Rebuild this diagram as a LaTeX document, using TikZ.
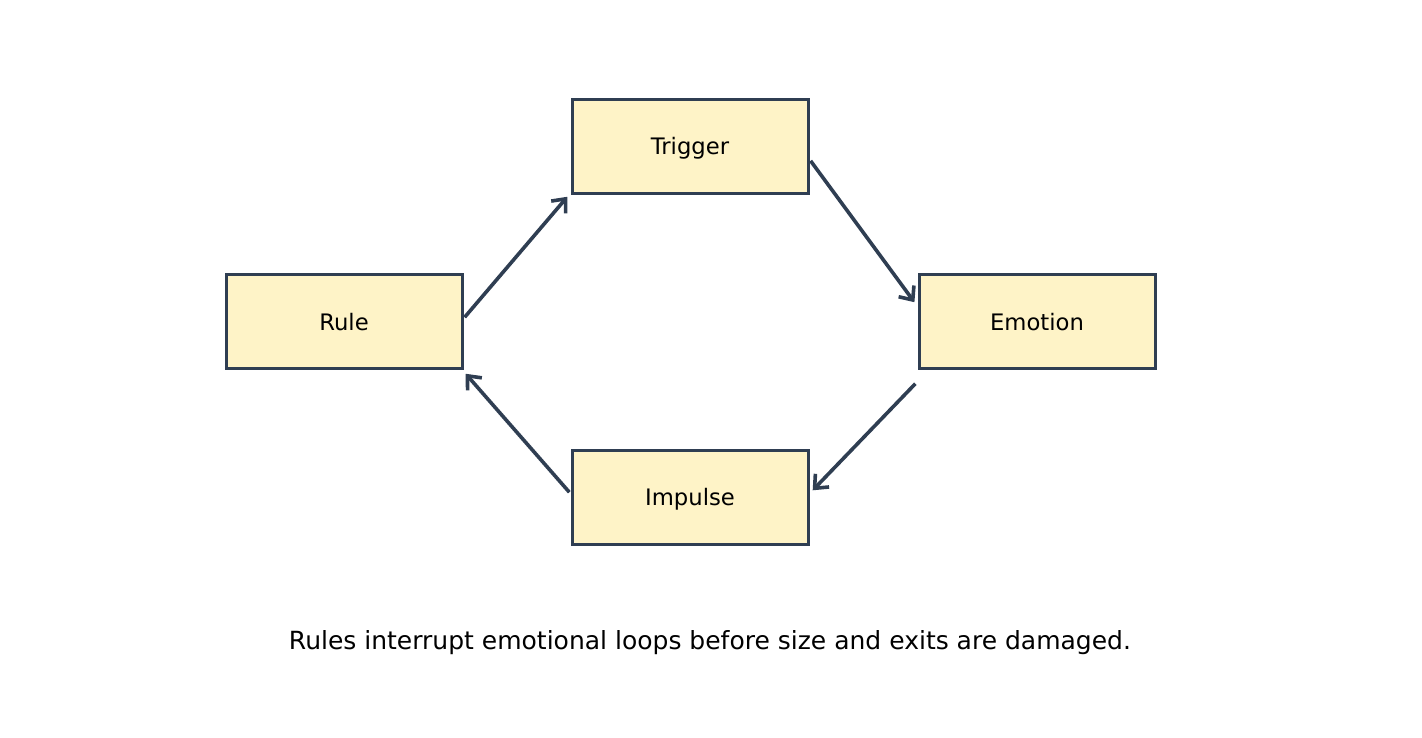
\documentclass[tikz,border=0pt]{standalone}
\usepackage{fontspec}
\setmainfont{DejaVu Sans}
\usetikzlibrary{arrows.meta}
\definecolor{boxfill}{HTML}{FEF3C7}
\definecolor{boxline}{HTML}{2F3E52}
\begin{document}
\begin{tikzpicture}[x=1pt,y=-1pt,
  stagebox/.style={draw=boxline,fill=boxfill,line width=3pt,minimum width=236pt,minimum height=94pt,inner sep=0pt,font=\fontsize{22.7}{27}\selectfont,text=black},
  lbl/.style={font=\fontsize{22.7}{27}\selectfont,text=black,inner sep=0pt},
  flow/.style={draw=boxline,line width=3.6pt,-{Straight Barb[length=11pt,width=19pt,line width=3.6pt]},shorten >=1pt,shorten <=1pt}]
\useasboundingbox (0,0) rectangle (1422,737);
\node[stagebox] (trigger) at (690,146) {};
\node[stagebox] (rule) at (344,321) {};
\node[stagebox] (emotion) at (1037,321) {};
\node[stagebox] (impulse) at (690,497) {};
\node[lbl] (triggerlbl) at ([yshift=-2pt]trigger.center) {Trigger};
\node[lbl] (rulelbl) at ([yshift=-1pt]rule.center) {Rule};
\node[lbl] (emotionlbl) at ([yshift=-1pt]emotion.center) {Emotion};
\node[lbl] (impulselbl) at ([yshift=-2pt]impulse.center) {Impulse};
\coordinate (a1) at (464,318); \coordinate (a2) at (568,196);
\coordinate (b1) at (810,160); \coordinate (b2) at (915,303);
\coordinate (c1) at (916,383); \coordinate (c2) at (812,491);
\coordinate (d1) at (570,493); \coordinate (d2) at (465,373);
\draw[flow] (a1) -- (a2);
\draw[flow] (b1) -- (b2);
\draw[flow] (c1) -- (c2);
\draw[flow] (d1) -- (d2);
\node[font=\fontsize{25}{30}\selectfont] (caption) at (710,643) {Rules interrupt emotional loops before size and exits are damaged.};
\end{tikzpicture}
\end{document}
